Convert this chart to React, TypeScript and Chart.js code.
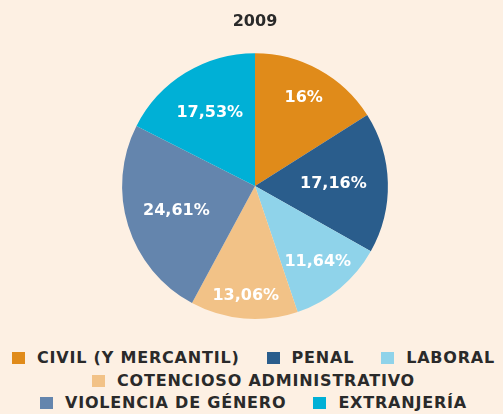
import React, { useEffect, useRef } from "react";
import { Chart, registerables } from "chart.js";

Chart.register(...registerables);

const title = "2009";
const categories = [
  "CIVIL (Y MERCANTIL)",
  "PENAL",
  "LABORAL",
  "COTENCIOSO ADMINISTRATIVO",
  "VIOLENCIA DE GÉNERO",
  "EXTRANJERÍA",
];
const values = [16, 17.16, 11.64, 13.06, 24.61, 17.53];
const colors = ["#e08b1a", "#2a5d8c", "#8fd3ea", "#f2c287", "#6485ad", "#00b0d6"];
// radial position of each value label, as a fraction of the radius
const labelRadius = [0.76, 0.59, 0.74, 0.83, 0.62, 0.65];

const FONT = "'DejaVu Sans', sans-serif";
const BG = "#fdf0e3";
const TEXT = "#2a2a2a";

const fmt = (v: number) => String(v).replace(".", ",") + "%";

const labelPlugin = {
  id: "sliceLabels",
  afterDatasetsDraw(chart: any) {
    const meta = chart.getDatasetMeta(0);
    const ctx = chart.ctx;
    ctx.save();
    ctx.fillStyle = "#ffffff";
    ctx.font = `bold 16px ${FONT}`;
    ctx.textAlign = "center";
    ctx.textBaseline = "middle";
    meta.data.forEach((arc: any, i: number) => {
      const { x, y, startAngle, endAngle, outerRadius } = arc.getProps(
        ["x", "y", "startAngle", "endAngle", "outerRadius"],
        true
      );
      const mid = (startAngle + endAngle) / 2;
      const r = outerRadius * labelRadius[i];
      ctx.fillText(fmt(values[i]), x + Math.cos(mid) * r, y + Math.sin(mid) * r);
    });
    ctx.restore();
  },
};

export default function App() {
  const ref = useRef<HTMLCanvasElement | null>(null);

  useEffect(() => {
    document.body.style.margin = "0";
    document.body.style.background = BG;
    const chart = new Chart(ref.current as HTMLCanvasElement, {
      type: "pie",
      data: {
        labels: categories,
        datasets: [
          {
            data: values,
            backgroundColor: colors,
            borderWidth: 0,
            hoverOffset: 0,
          },
        ],
      },
      options: {
        animation: false,
        responsive: false,
        events: [],
        layout: { padding: { left: 7, right: 0, top: 0, bottom: 21 } },
        plugins: {
          legend: { display: false },
          tooltip: { enabled: false },
          title: {
            display: true,
            text: title,
            color: TEXT,
            font: { family: FONT, size: 16, weight: "bold" },
            padding: { top: 12, bottom: 22 },
          },
        },
      },
      plugins: [labelPlugin],
    });
    return () => chart.destroy();
  }, []);

  return (
    <div style={{ position: "relative", width: 503, height: 414, background: BG, overflow: "hidden" }}>
      <canvas ref={ref} width={503} height={340} style={{ display: "block" }} />
      <div
        style={{
          position: "absolute",
          top: 347,
          left: 4,
          width: 499,
          display: "flex",
          flexWrap: "wrap",
          justifyContent: "center",
          columnGap: 27,
          rowGap: 0,
          fontFamily: FONT,
          fontWeight: "bold",
          fontSize: 16,
          letterSpacing: "0.8px",
          color: TEXT,
          lineHeight: "22.5px",
        }}
      >
        {categories.map((c, i) => (
          <div key={c} style={{ display: "flex", alignItems: "center", whiteSpace: "nowrap" }}>
            <span
              style={{
                display: "inline-block",
                width: 13,
                height: 12,
                background: colors[i],
                marginRight: 12,
              }}
            />
            <span>{c}</span>
          </div>
        ))}
      </div>
    </div>
  );
}
